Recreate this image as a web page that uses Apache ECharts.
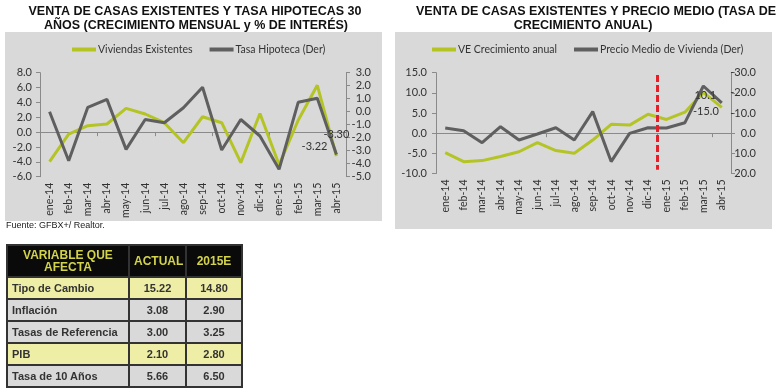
<!DOCTYPE html>
<html>
<head>
<meta charset="utf-8">
<script src="https://cdn.jsdelivr.net/npm/echarts@6/dist/echarts.min.js"></script>
<style>
html,body{margin:0;padding:0;background:#fff;width:779px;height:391px;overflow:hidden;}
#chart{position:absolute;left:0;top:0;width:779px;height:391px;}
#src{position:absolute;left:6px;top:220px;font:9px 'Liberation Sans',Arial,sans-serif;color:#222;white-space:nowrap;}
#tbl{position:absolute;left:6px;top:244px;width:235px;table-layout:fixed;border-collapse:collapse;font:bold 11px 'Liberation Sans',Arial,sans-serif;color:#333;}
#tbl td,#tbl th{border:2px solid #333;padding:0 4px;box-sizing:border-box;white-space:nowrap;overflow:hidden;}
#tbl th{background:#0a0a0a;color:#d2d34b;height:32px;font-size:12px;line-height:12px;text-align:center;white-space:normal;}
#tbl td{height:22px;text-align:center;}
#tbl td.lbl{text-align:left;}
#tbl tr.hl td{background:#eeeea6;}
#tbl tr.gr td{background:#d9d9d9;}
</style>
</head>
<body>
<div id="chart"></div>
<div id="src">Fuente: GFBX+/ Realtor.</div>
<table id="tbl"></table>
<script>
// ---------- data ----------
const categories = ['ene-14','feb-14','mar-14','abr-14','may-14','jun-14','jul-14','ago-14','sep-14','oct-14','nov-14','dic-14','ene-15','feb-15','mar-15','abr-15'];
const viviendasExistentes = [-3.98,-0.26,0.86,1.09,3.2,2.44,1.27,-1.42,2.07,1.27,-4.1,2.5,-4.4,1.6,6.3,-3.22];
const tasaHipoteca = [0.0,-3.77,0.34,0.95,-2.9,-0.6,-0.85,0.3,1.88,-2.95,-0.6,-1.87,-4.43,0.72,1.03,-3.30];
const veCrecimientoAnual = [-4.84,-7.07,-6.8,-5.8,-4.6,-2.35,-4.3,-5.0,-1.7,2.2,2.0,4.7,3.4,5.2,10.1,6.4];
const precioMedioVivienda = [-2.6,-1.2,4.7,-3.2,3.4,0.4,-2.7,3.4,-10.7,14.1,0.1,-2.7,-2.6,-5.2,-23.4,-15.0];
const leftYTicks = {min:-6, max:8, interval:2};
const leftY2Ticks = {min:-5, max:3, interval:1};
const rightYTicks = {min:-10, max:15, interval:5};
const rightY2Ticks = {min:-30, max:20, interval:10};
const dividerCategoryIndex = 12; // boundary dic-14 / ene-15
const labelLeftGreenIdx = 15, labelLeftGrayIdx = 15, labelRightGreenIdx = 14, labelRightGrayIdx = 15;

const tableHeader = ['VARIABLE QUE<br>AFECTA','ACTUAL','2015E'];
const tableVariables = ['Tipo de Cambio','Inflación','Tasas de Referencia','PIB','Tasa de 10 Años'];
const tableActual = ['15.22','3.08','3.00','2.10','5.66'];
const table2015E = ['14.80','2.90','3.25','2.80','6.50'];
const highlightedRows = [0,3];

// ---------- table ----------
(function(){
  const t = document.getElementById('tbl');
  let h = '<colgroup><col style="width:122px"><col style="width:57px"><col style="width:56px"></colgroup>';
  h += '<tr>' + tableHeader.map(x=>'<th>'+x+'</th>').join('') + '</tr>';
  tableVariables.forEach((v,i)=>{
    h += '<tr class="'+(highlightedRows.indexOf(i)>=0?'hl':'gr')+'"><td class="lbl">'+v+'</td><td>'+tableActual[i]+'</td><td>'+table2015E[i]+'</td></tr>';
  });
  t.innerHTML = h;
})();

// ---------- chart ----------
const FONT = 'Lato';
const GREEN = '#b4c425', GRAY = '#5f5f5f', AXIS = '#8a8a8a', TXT = '#333333';
const TITLE_FONT = 'bold 12.5px "Liberation Sans", Arial, sans-serif';

function withLabel(arr, idx, labelCfg){
  return arr.map((v,i)=> i===idx ? {value:v, label:Object.assign({show:true}, labelCfg)} : v);
}
function yAx(grid, pos, t, extra){
  return Object.assign({
    gridIndex:grid, type:'value', position:pos, min:t.min, max:t.max, interval:t.interval,
    axisLine:{show:true, lineStyle:{color:AXIS, width:1}},
    axisTick:{show:true, length:4, lineStyle:{color:AXIS}},
    splitLine:{show:false},
    axisLabel:{fontFamily:FONT, fontSize:11, color:TXT, formatter:v=>v.toFixed(1)}
  }, extra||{});
}
function xLabelAxis(grid){
  return {gridIndex:grid, type:'category', data:categories, position:'bottom', boundaryGap:true,
    axisLine:{show:false, onZero:false}, axisTick:{show:false},
    axisLabel:{rotate:90, interval:0, fontFamily:FONT, fontSize:10.5, color:TXT, margin:6}};
}
function xZeroAxis(grid, yIdx){
  return {gridIndex:grid, type:'category', data:categories, position:'bottom', boundaryGap:true,
    axisLine:{show:true, onZero:true, onZeroAxisIndex:yIdx, lineStyle:{color:AXIS, width:1}},
    axisTick:{show:true, length:4, lineStyle:{color:AXIS}},
    axisLabel:{show:false}};
}
const lineBase = {type:'line', symbol:'circle', symbolSize:0, showSymbol:true, showAllSymbol:true,
  silent:true, emphasis:{disabled:true}, z:3};
const legendBase = {itemWidth:24, itemHeight:4, itemGap:17, icon:'rect', padding:0, top:44,
  selectedMode:false, textStyle:{fontFamily:FONT, fontSize:10.5, color:TXT, padding:[0,0,0,-3]}};

const chart = echarts.init(document.getElementById('chart'), null, {renderer:'canvas'});
chart.setOption({
  animation:false,
  textStyle:{fontFamily:FONT},
  graphic:[
    {type:'rect', z:-10, silent:true, shape:{x:5, y:32, width:377, height:189}, style:{fill:'#d9d9d9'}},
    {type:'rect', z:-10, silent:true, shape:{x:395, y:32, width:377, height:197}, style:{fill:'#d9d9d9'}},
    {type:'text', x:195, y:12, style:{text:'VENTA DE CASAS EXISTENTES Y TASA HIPOTECAS 30', font:TITLE_FONT, fill:'#111', align:'center', verticalAlign:'middle'}},
    {type:'text', x:196, y:26, style:{text:'AÑOS (CRECIMIENTO MENSUAL y % DE INTERÉS)', font:TITLE_FONT, fill:'#111', align:'center', verticalAlign:'middle'}},
    {type:'text', x:596, y:12, style:{text:'VENTA DE CASAS EXISTENTES Y PRECIO MEDIO (TASA DE', font:TITLE_FONT, fill:'#111', align:'center', verticalAlign:'middle'}},
    {type:'text', x:583, y:26, style:{text:'CRECIMIENTO ANUAL)', font:TITLE_FONT, fill:'#111', align:'center', verticalAlign:'middle'}}
  ],
  legend:[
    Object.assign({}, legendBase, {data:['Viviendas Existentes','Tasa Hipoteca (Der)'], left:72}),
    Object.assign({}, legendBase, {data:['VE Crecimiento anual','Precio Medio de Vivienda (Der)'], left:432})
  ],
  grid:[
    {left:40, top:72.7, width:306, height:104},
    {left:436, top:72.7, width:295, height:100.8}
  ],
  xAxis:[
    xLabelAxis(0), xZeroAxis(0, 0),
    xLabelAxis(1), xZeroAxis(1, 2),
    {gridIndex:1, type:'value', position:'top', min:0, max:categories.length, show:false}
  ],
  yAxis:[
    yAx(0,'left',leftYTicks,{axisLabel:{fontFamily:FONT, fontSize:11, color:TXT, margin:8, formatter:v=>v.toFixed(1)}}),
    yAx(0,'right',leftY2Ticks,{axisLabel:{fontFamily:FONT, fontSize:11, color:TXT, margin:25, align:'right', formatter:v=>v.toFixed(1)}}),
    yAx(1,'left',rightYTicks,{axisLabel:{fontFamily:FONT, fontSize:11, color:TXT, margin:9, formatter:v=>v.toFixed(1)}}),
    yAx(1,'right',rightY2Ticks,{inverse:true, axisLabel:{fontFamily:FONT, fontSize:11, color:TXT, margin:25, align:'right', formatter:v=>v.toFixed(1)}})
  ],
  series:[
    Object.assign({}, lineBase, {name:'Viviendas Existentes', xAxisIndex:0, yAxisIndex:0,
      itemStyle:{color:GREEN}, lineStyle:{color:GREEN, width:3},
      label:{show:false, fontFamily:FONT, fontSize:11, color:TXT, formatter:p=>Number(p.value).toFixed(2)},
      data:withLabel(viviendasExistentes, labelLeftGreenIdx, {position:'left', distance:9, offset:[0,-10]})}),
    Object.assign({}, lineBase, {name:'Tasa Hipoteca (Der)', xAxisIndex:0, yAxisIndex:1,
      itemStyle:{color:GRAY}, lineStyle:{color:GRAY, width:3},
      label:{show:false, fontFamily:FONT, fontSize:11, color:TXT, formatter:p=>Number(p.value).toFixed(2)},
      data:withLabel(tasaHipoteca, labelLeftGrayIdx, {position:'top', distance:15})}),
    Object.assign({}, lineBase, {name:'VE Crecimiento anual', xAxisIndex:2, yAxisIndex:2,
      itemStyle:{color:GREEN}, lineStyle:{color:GREEN, width:3},
      label:{show:false, fontFamily:FONT, fontSize:11, color:TXT, formatter:p=>Number(p.value).toFixed(1)},
      data:withLabel(veCrecimientoAnual, labelRightGreenIdx, {position:'inside', offset:[2,3]})}),
    Object.assign({}, lineBase, {name:'Precio Medio de Vivienda (Der)', xAxisIndex:2, yAxisIndex:3,
      itemStyle:{color:GRAY}, lineStyle:{color:GRAY, width:3},
      label:{show:false, fontFamily:FONT, fontSize:11, color:TXT, formatter:p=>Number(p.value).toFixed(1)},
      data:withLabel(precioMedioVivienda, labelRightGrayIdx, {position:'left', distance:3, offset:[0,9]})}),
    {type:'line', name:'divider', xAxisIndex:4, yAxisIndex:2, data:[[dividerCategoryIndex,0]], symbol:'none', silent:true,
      lineStyle:{opacity:0}, z:5,
      markLine:{silent:true, symbol:'none', label:{show:false},
        lineStyle:{color:'#e3202a', width:3, type:[7,3]},
        data:[[{coord:[dividerCategoryIndex,14.4]},{coord:[dividerCategoryIndex,-9.1]}]]}}
  ]
});
</script>
</body>
</html>
